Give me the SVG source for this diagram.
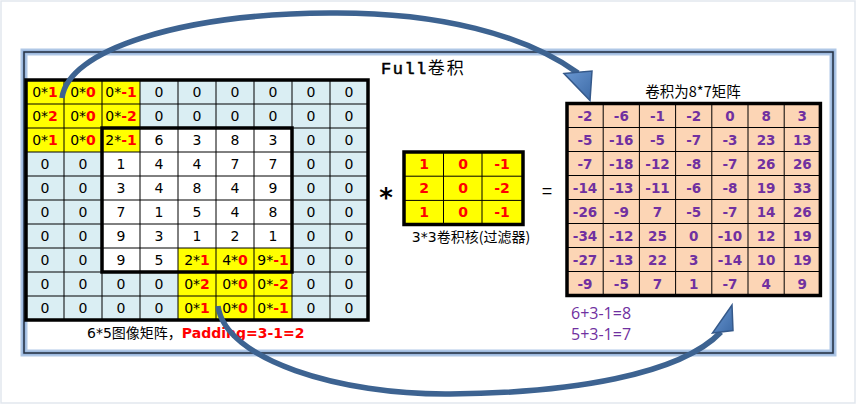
<svg xmlns="http://www.w3.org/2000/svg" width="856" height="404" viewBox="0 0 856 404">
<style>
.bg{fill:#fff}
.glow{fill:none;stroke:#AFC7E6;stroke-width:7}
.glow2{fill:none;stroke:#8EAED8;stroke-width:3}
.fline{fill:none;stroke:#263040;stroke-width:1.5}
.lb{fill:#DAEEF3}
.wh{fill:#fff}
.ye{fill:#FFFF00}
.pe{fill:#FCD5B5}
.grid{stroke:#000;stroke-width:1;fill:none}
.thick{stroke:#000;stroke-width:3.5;fill:none}
.t{font-family:"DejaVu Sans",sans-serif;font-size:14px;fill:#000;text-anchor:middle}
.r{fill:#FF0000;font-weight:bold}
.k{font-family:"DejaVu Sans",sans-serif;font-size:14px;font-weight:bold;fill:#FF0000;text-anchor:middle}
.o{font-family:"DejaVu Sans",sans-serif;font-size:13.5px;font-weight:bold;fill:#7030A0;text-anchor:middle}
.lab{font-family:"DejaVu Sans","Noto Sans CJK SC",sans-serif;font-size:14px;fill:#000}
.eq{font-family:"Open Sans",sans-serif;font-size:16px;fill:#7030A0}
.arr{fill:none;stroke:#3D6391;stroke-width:5.5;stroke-linecap:butt}
.head{fill:url(#hg);stroke:#35598A;stroke-width:1.5;stroke-linejoin:miter}
</style>
<defs>
<linearGradient id="hg" x1="0" y1="0" x2="1" y2="1">
<stop offset="0" stop-color="#6A98D2"/>
<stop offset="1" stop-color="#3D6AA6"/>
</linearGradient>
</defs>
<rect x="0" y="0" width="856" height="404" class="bg"/>
<rect x="1" y="1" width="854" height="402" fill="none" stroke="#E2E7EE" stroke-width="1.5"/>

<g id="frame">
<rect x="24" y="52" width="809" height="301" class="bg"/>
<rect x="24" y="52" width="809" height="301" class="glow"/>
<rect x="24" y="52" width="809" height="301" class="glow2"/>
<rect x="24" y="52" width="809" height="301" class="fline"/>
</g>

<g id="title">
<text x="381" y="74" font-size="17" fill="#000"><tspan font-family="Liberation Mono,monospace" letter-spacing="1.5" stroke="#000" stroke-width="0.5">Full</tspan><tspan font-family="Noto Sans CJK SC,sans-serif" letter-spacing="2">卷积</tspan></text>
</g>

<g id="input-matrix">
<g id="input-cells">
<rect x="26" y="80" width="342" height="240" class="lb"/>
<rect x="102" y="128" width="190" height="144" class="wh"/>
<rect x="26" y="80" width="114" height="72" class="ye"/>
<rect x="178" y="248" width="114" height="72" class="ye"/>
</g>
<g class="grid">
<path d="M64 80V320M102 80V320M140 80V320M178 80V320M216 80V320M254 80V320M292 80V320M330 80V320"/>
<path d="M26 104H368M26 128H368M26 152H368M26 176H368M26 200H368M26 224H368M26 248H368M26 272H368M26 296H368"/>
</g>
<rect x="26" y="80" width="342" height="240" class="thick"/>
<rect x="102" y="128" width="190" height="144" class="thick"/>
<g class="t">
<text x="45" y="97">0*<tspan class="r">1</tspan></text>
<text x="83" y="97">0*<tspan class="r">0</tspan></text>
<text x="121" y="97">0*<tspan class="r">-1</tspan></text>
<text x="159" y="97">0</text><text x="197" y="97">0</text><text x="235" y="97">0</text><text x="273" y="97">0</text><text x="311" y="97">0</text><text x="349" y="97">0</text>
<text x="45" y="121">0*<tspan class="r">2</tspan></text>
<text x="83" y="121">0*<tspan class="r">0</tspan></text>
<text x="121" y="121">0*<tspan class="r">-2</tspan></text>
<text x="159" y="121">0</text><text x="197" y="121">0</text><text x="235" y="121">0</text><text x="273" y="121">0</text><text x="311" y="121">0</text><text x="349" y="121">0</text>
<text x="45" y="145">0*<tspan class="r">1</tspan></text>
<text x="83" y="145">0*<tspan class="r">0</tspan></text>
<text x="121" y="145">2*<tspan class="r">-1</tspan></text>
<text x="159" y="145">6</text><text x="197" y="145">3</text><text x="235" y="145">8</text><text x="273" y="145">3</text><text x="311" y="145">0</text><text x="349" y="145">0</text>
<text x="45" y="169">0</text><text x="83" y="169">0</text><text x="121" y="169">1</text><text x="159" y="169">4</text><text x="197" y="169">4</text><text x="235" y="169">7</text><text x="273" y="169">7</text><text x="311" y="169">0</text><text x="349" y="169">0</text>
<text x="45" y="193">0</text><text x="83" y="193">0</text><text x="121" y="193">3</text><text x="159" y="193">4</text><text x="197" y="193">8</text><text x="235" y="193">4</text><text x="273" y="193">9</text><text x="311" y="193">0</text><text x="349" y="193">0</text>
<text x="45" y="217">0</text><text x="83" y="217">0</text><text x="121" y="217">7</text><text x="159" y="217">1</text><text x="197" y="217">5</text><text x="235" y="217">4</text><text x="273" y="217">8</text><text x="311" y="217">0</text><text x="349" y="217">0</text>
<text x="45" y="241">0</text><text x="83" y="241">0</text><text x="121" y="241">9</text><text x="159" y="241">3</text><text x="197" y="241">1</text><text x="235" y="241">2</text><text x="273" y="241">1</text><text x="311" y="241">0</text><text x="349" y="241">0</text>
<text x="45" y="265">0</text><text x="83" y="265">0</text><text x="121" y="265">9</text><text x="159" y="265">5</text>
<text x="197" y="265">2*<tspan class="r">1</tspan></text>
<text x="235" y="265">4*<tspan class="r">0</tspan></text>
<text x="273" y="265">9*<tspan class="r">-1</tspan></text>
<text x="311" y="265">0</text><text x="349" y="265">0</text>
<text x="45" y="289">0</text><text x="83" y="289">0</text><text x="121" y="289">0</text><text x="159" y="289">0</text>
<text x="197" y="289">0*<tspan class="r">2</tspan></text>
<text x="235" y="289">0*<tspan class="r">0</tspan></text>
<text x="273" y="289">0*<tspan class="r">-2</tspan></text>
<text x="311" y="289">0</text><text x="349" y="289">0</text>
<text x="45" y="313">0</text><text x="83" y="313">0</text><text x="121" y="313">0</text><text x="159" y="313">0</text>
<text x="197" y="313">0*<tspan class="r">1</tspan></text>
<text x="235" y="313">0*<tspan class="r">0</tspan></text>
<text x="273" y="313">0*<tspan class="r">-1</tspan></text>
<text x="311" y="313">0</text><text x="349" y="313">0</text>
</g>
</g>

<g id="input-label">
<text x="87" y="338" class="lab">6*5<tspan font-family="Noto Sans CJK SC,sans-serif">图像矩阵，</tspan><tspan fill="#FF0000" font-weight="bold">Padding=3-1=2</tspan></text>
</g>

<g id="operator-mul">
<text x="386" y="207" font-family="DejaVu Sans,sans-serif" font-size="26" font-weight="bold" text-anchor="middle" fill="#000">*</text>
</g>

<g id="kernel">
<rect x="404" y="152" width="119" height="72.5" class="ye"/>
<path d="M443.5 152V224.5M482 152V224.5M404 176.2H523M404 200.4H523" class="grid"/>
<rect x="404" y="152" width="119" height="72.5" class="thick"/>
<g class="k">
<text x="424" y="169">1</text><text x="463" y="169">0</text><text x="502" y="169">-1</text>
<text x="424" y="193">2</text><text x="463" y="193">0</text><text x="502" y="193">-2</text>
<text x="424" y="217">1</text><text x="463" y="217">0</text><text x="502" y="217">-1</text>
</g>
<text x="471" y="242" class="lab" text-anchor="middle">3*3<tspan font-family="Noto Sans CJK SC,sans-serif">卷积核(过滤器)</tspan></text>
</g>

<g id="operator-eq">
<text x="547" y="197" font-family="Liberation Sans,sans-serif" font-size="18" text-anchor="middle" fill="#000">=</text>
</g>

<g id="output-matrix">
<text x="693" y="97" font-family="Noto Sans CJK SC,sans-serif" font-size="14.5" text-anchor="middle" fill="#000">卷积为8*7矩阵</text>
<rect x="567" y="103.5" width="253.4" height="192" class="pe"/>
<path d="M603.2 103.5V295.5M639.4 103.5V295.5M675.6 103.5V295.5M711.8 103.5V295.5M748 103.5V295.5M784.2 103.5V295.5M567 127.5H820.4M567 151.5H820.4M567 175.5H820.4M567 199.5H820.4M567 223.5H820.4M567 247.5H820.4M567 271.5H820.4" class="grid"/>
<rect x="567" y="103.5" width="253.4" height="192" class="thick"/>
<g class="o">
<text x="585" y="120.5">-2</text><text x="621.3" y="120.5">-6</text><text x="657.5" y="120.5">-1</text><text x="693.7" y="120.5">-2</text><text x="729.9" y="120.5">0</text><text x="766.1" y="120.5">8</text><text x="802.3" y="120.5">3</text>
<text x="585" y="144.5">-5</text><text x="621.3" y="144.5">-16</text><text x="657.5" y="144.5">-5</text><text x="693.7" y="144.5">-7</text><text x="729.9" y="144.5">-3</text><text x="766.1" y="144.5">23</text><text x="802.3" y="144.5">13</text>
<text x="585" y="168.5">-7</text><text x="621.3" y="168.5">-18</text><text x="657.5" y="168.5">-12</text><text x="693.7" y="168.5">-8</text><text x="729.9" y="168.5">-7</text><text x="766.1" y="168.5">26</text><text x="802.3" y="168.5">26</text>
<text x="585" y="192.5">-14</text><text x="621.3" y="192.5">-13</text><text x="657.5" y="192.5">-11</text><text x="693.7" y="192.5">-6</text><text x="729.9" y="192.5">-8</text><text x="766.1" y="192.5">19</text><text x="802.3" y="192.5">33</text>
<text x="585" y="216.5">-26</text><text x="621.3" y="216.5">-9</text><text x="657.5" y="216.5">7</text><text x="693.7" y="216.5">-5</text><text x="729.9" y="216.5">-7</text><text x="766.1" y="216.5">14</text><text x="802.3" y="216.5">26</text>
<text x="585" y="240.5">-34</text><text x="621.3" y="240.5">-12</text><text x="657.5" y="240.5">25</text><text x="693.7" y="240.5">0</text><text x="729.9" y="240.5">-10</text><text x="766.1" y="240.5">12</text><text x="802.3" y="240.5">19</text>
<text x="585" y="264.5">-27</text><text x="621.3" y="264.5">-13</text><text x="657.5" y="264.5">22</text><text x="693.7" y="264.5">3</text><text x="729.9" y="264.5">-14</text><text x="766.1" y="264.5">10</text><text x="802.3" y="264.5">19</text>
<text x="585" y="288.5">-9</text><text x="621.3" y="288.5">-5</text><text x="657.5" y="288.5">7</text><text x="693.7" y="288.5">1</text><text x="729.9" y="288.5">-7</text><text x="766.1" y="288.5">4</text><text x="802.3" y="288.5">9</text>
</g>
</g>

<g id="size-formula">
<text x="571" y="319" class="eq">6+3-1=8</text>
<text x="571" y="340" class="eq">5+3-1=7</text>
</g>

<g id="connectors">
<path class="arr" d="M62 98C68 50 180 14 330 13C440 12 525 35 578 73"/>
<polygon class="head" points="564,73.5 592,71 590,100.5"/>
<path class="arr" d="M218 306C225 360 340 395 450 394C570 393 680 375 721 332"/>
<polygon class="head" points="712.5,333 733,330.5 732,305"/>
</g>
</svg>
